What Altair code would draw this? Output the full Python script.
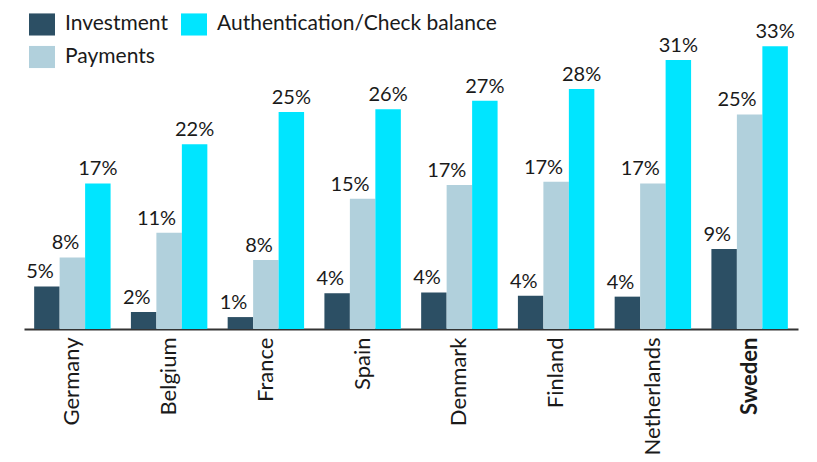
import altair as alt
import pandas as pd

countries = ["Germany", "Belgium", "France", "Spain", "Denmark", "Finland", "Netherlands", "Sweden"]
series = ["Investment", "Payments", "Authentication/Check balance"]
investment = [5.0, 2.0, 1.4, 4.2, 4.3, 3.9, 3.8, 9.4]
payments = [8.4, 11.3, 8.1, 15.3, 16.9, 17.3, 17.1, 25.2]
authentication = [17.1, 21.7, 25.5, 25.8, 26.8, 28.2, 31.6, 33.2]
investment_labels = [5, 2, 1, 4, 4, 4, 4, 9]
payments_labels = [8, 11, 8, 15, 17, 17, 17, 25]
authentication_labels = [17, 22, 25, 26, 27, 28, 31, 33]
colors = ["#2c4f64", "#b1d0dc", "#00e5ff"]

rows = []
for s, vals, labs in zip(series, [investment, payments, authentication],
                         [investment_labels, payments_labels, authentication_labels]):
    for c, v, l in zip(countries, vals, labs):
        rows.append({"country": c, "series": s, "value": v, "label": f"{l}%"})
df = pd.DataFrame(rows)

FONT = "Lato"
TXT = "#1a1a1a"

base = alt.Chart(df).encode(
    x=alt.X("country:N", sort=countries,
            scale=alt.Scale(paddingInner=0.21, paddingOuter=0.105),
            axis=alt.Axis(title=None, labelAngle=-90, ticks=False, domain=True,
                          domainColor="#333333", domainWidth=2, labelPadding=8,
                          labelFont=FONT, labelFontSize=22, labelColor=TXT,
                          labelFontWeight={"condition": {"test": "datum.value == 'Sweden'", "value": "bold"},
                                           "value": "normal"},
                          grid=False)),
    xOffset=alt.XOffset("series:N", sort=series,
                        scale=alt.Scale(paddingInner=0, paddingOuter=0)),
    y=alt.Y("value:Q", scale=alt.Scale(domain=[0, 35], nice=False), axis=None),
)

bars = base.mark_bar().encode(
    color=alt.Color("series:N",
                    scale=alt.Scale(domain=series, range=colors),
                    legend=alt.Legend(title=None, orient="none",
                                      legendX=5, legendY=-20, columns=2,
                                      symbolType="M-1,-0.85L1,-0.85L1,0.85L-1,0.85Z",
                                      symbolSize=676, symbolStrokeWidth=0, symbolOpacity=1,
                                      labelFont=FONT, labelFontSize=21, labelColor=TXT,
                                      labelOffset=10, columnPadding=13, rowPadding=8,
                                      padding=0, labelLimit=400))
)

text_other = base.transform_filter(
    "datum.series != 'Authentication/Check balance'"
).mark_text(align="right", dx=7, dy=-8, baseline="alphabetic", font=FONT,
            fontSize=20, color=TXT).encode(text="label:N")

text_auth = base.transform_filter(
    "datum.series == 'Authentication/Check balance'"
).mark_text(align="center", dy=-8, baseline="alphabetic", font=FONT,
            fontSize=20, color=TXT).encode(text="label:N")

chart = alt.layer(bars, text_other, text_auth).properties(
    width=774, height=298,
    padding={"left": 16, "top": 23, "right": 11, "bottom": 130},
    autosize=alt.AutoSizeParams(type="none"),
).configure_view(stroke=None)

chart.save("out.html", embed_options={"renderer": "svg", "actions": False})
